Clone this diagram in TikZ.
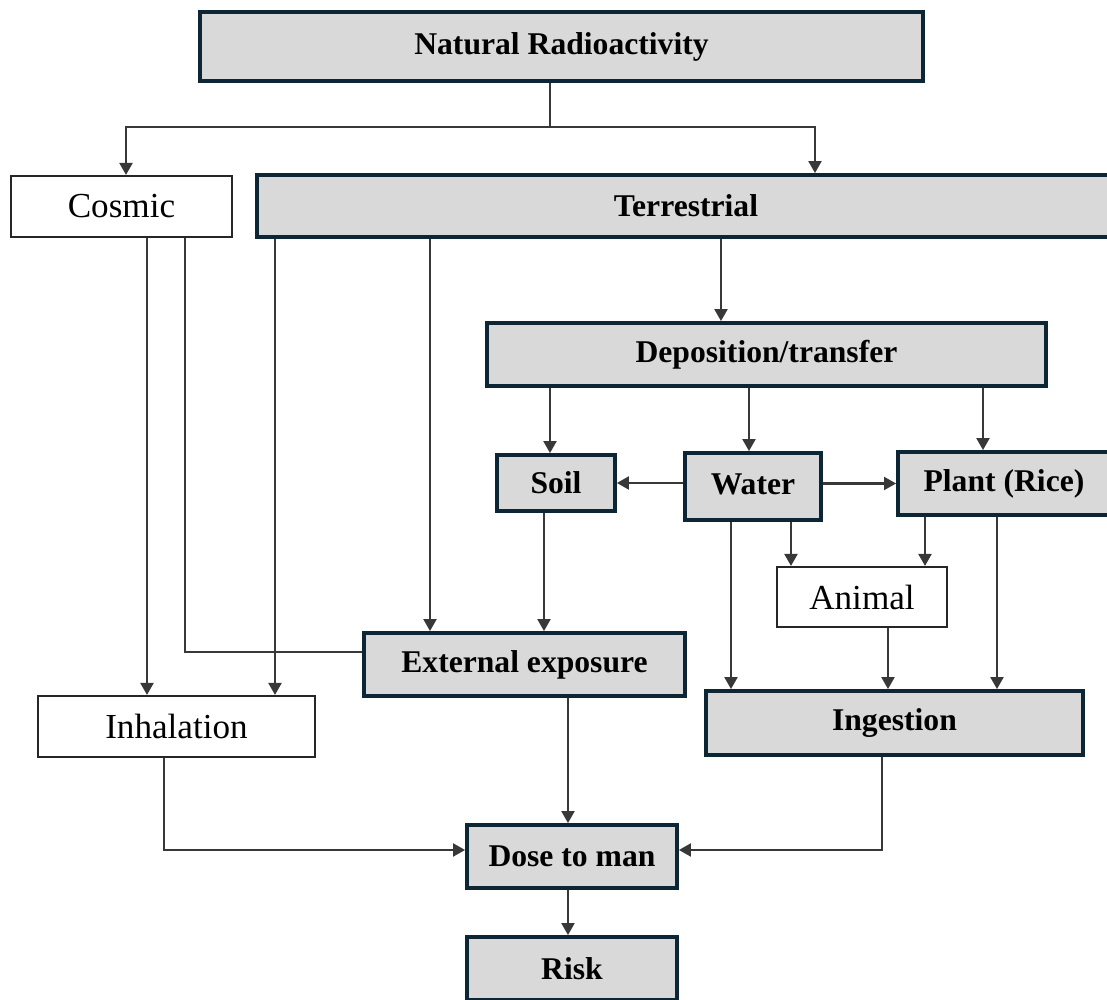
\documentclass[tikz,border=0pt]{standalone}
\usepackage{fontspec}
\setmainfont{Liberation Serif}
\usepackage{xcolor}
\usepackage{tikz}
\usetikzlibrary{arrows.meta, positioning, calc}

\definecolor{boxgray}{HTML}{D9D9D9}
\definecolor{boxline}{HTML}{0C2636}

\tikzset{
	gbox/.style={draw=boxline, line width=1.1pt, fill=boxgray, inner sep=0pt, font=\bfseries\fontsize{9}{10}\selectfont},
	wbox/.style={draw=black!85, line width=0.6pt, fill=white, inner sep=0pt, font=\fontsize{10}{12}\selectfont},
	link/.style={line width=0.6pt, draw=black!78},
	arr/.style={link, -{Triangle[length=1.2mm,width=1.3mm]}}
}

\begin{document}
\begin{tikzpicture}
				\useasboundingbox (0,0) rectangle (11.07,-10);
				
				\node [gbox, minimum width=7.23cm, minimum height=0.69cm] (nat) at (5.615,-0.465) {Natural Radioactivity};
				\node [wbox, minimum width=2.21cm, minimum height=0.61cm] (cos) at (1.215,-2.065) {Cosmic};
				\node [gbox, minimum width=8.58cm, minimum height=0.62cm] (terr) at (6.86,-2.06) {Terrestrial};
				\node [gbox, minimum width=5.59cm, minimum height=0.63cm] (dep) at (7.665,-3.545) {Deposition/transfer};
				
				\node [gbox, minimum width=1.18cm, minimum height=0.56cm] (soil) at (5.56,-4.83) {Soil};
				\node [gbox, minimum width=1.36cm, minimum height=0.67cm] (water) at (7.53,-4.865) {\raisebox{0.04cm}{Water}};
				\node [gbox, minimum width=2.12cm, minimum height=0.63cm] (plant) at (10.04,-4.835) {Plant (Rice)};
				\node [wbox, minimum width=1.70cm, minimum height=0.60cm] (animal) at (8.62,-5.97) {Animal};
				
				\node [gbox, minimum width=3.21cm, minimum height=0.63cm] (ext) at (5.245,-6.645) {External exposure};
				\node [gbox, minimum width=3.77cm, minimum height=0.64cm] (ing) at (8.945,-7.23) {Ingestion};
				\node [wbox, minimum width=2.77cm, minimum height=0.61cm] (inh) at (1.765,-7.265) {Inhalation};
				
				\node [gbox, minimum width=2.10cm, minimum height=0.63cm] (dose) at (5.72,-8.565) {Dose to man};
				\node [gbox, minimum width=2.10cm, minimum height=0.63cm] (risk) at (5.72,-9.685) {Risk};
				
				% % % % % % % % % % % % % % % % % % % % % % % % % %
				
				\coordinate (split) at (5.5,-1.27);
				\draw [link] (nat.south -| split) -- (split);
				\draw [arr] (split) -| (cos.north -| 1.26,0);
				\draw [arr] (split) -| (terr.north -| 8.15,0);
				
				\draw [arr] (cos.south -| 1.47,0) -- (inh.north -| 1.47,0);
				\draw [link] (cos.south -| 1.85,0) |- (ext.west |- 0,-6.52);
				
				\draw [arr] (terr.south -| 2.75,0) -- (inh.north -| 2.75,0);
				\draw [arr] (terr.south -| 4.30,0) -- (ext.north -| 4.30,0);
				\draw [arr] (terr.south -| 7.21,0) -- (dep.north -| 7.21,0);
				
				\draw [arr] (dep.south -| 5.50,0) -- (soil.north -| 5.50,0);
				\draw [arr] (dep.south -| 7.49,0) -- (water.north -| 7.49,0);
				\draw [arr] (dep.south -| 9.83,0) -- (plant.north -| 9.83,0);
				
				\draw [arr] (water.west |- soil) -- (soil.east);
				\draw [arr] (water.east |- plant) -- (plant.west);
				
				\draw [arr] (soil.south -| 5.44,0) -- (ext.north -| 5.44,0);
				\draw [arr] (water.south -| 7.31,0) -- (ing.north -| 7.31,0);
				\draw [arr] (water.south -| 7.91,0) -- (animal.north -| 7.91,0);
				\draw [arr] (plant.south -| 9.25,0) -- (animal.north -| 9.25,0);
				\draw [arr] (plant.south -| 9.97,0) -- (ing.north -| 9.97,0);
				\draw [arr] (animal.south -| 8.88,0) -- (ing.north -| 8.88,0);
				
				\draw [arr] (ext.south -| 5.68,0) -- (dose.north -| 5.68,0);
				\draw [arr] (inh.south -| 1.64,0) |- (dose.west |- 0,-8.5);
				\draw [arr] (ing.south -| 8.82,0) |- (dose.east |- 0,-8.5);
				\draw [arr] (dose.south -| 5.68,0) -- (risk.north -| 5.68,0);
				\end{tikzpicture}
\end{document}
